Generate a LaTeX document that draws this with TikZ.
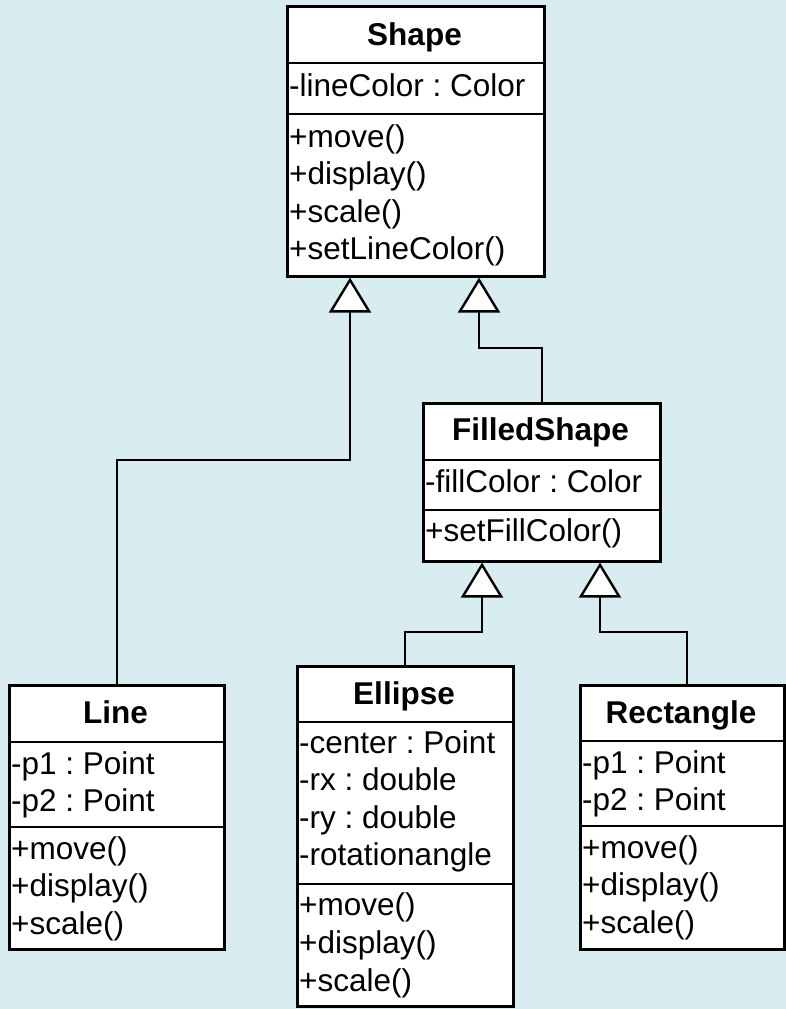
\documentclass[tikz,border=0pt]{standalone}
\usepackage{fontspec}
\setmainfont{Liberation Sans}
\usetikzlibrary{arrows.meta}
\definecolor{bgc}{RGB}{217,236,239}
\frenchspacing
\begin{document}
\begin{tikzpicture}[x=1pt,y=-1pt,
  classbox/.style={draw=black, fill=white, line width=2.6pt, inner sep=0pt, anchor=north west},
  sep/.style={line width=2.6pt},
  title/.style={font=\fontsize{31.5pt}{37pt}\selectfont\bfseries, anchor=base, inner sep=0pt},
  member/.style={font=\fontsize{31.5pt}{37pt}\selectfont, anchor=base west, inner sep=0pt},
  inherit/.style={line width=1.8pt, -{Triangle[length=35pt, width=42pt, fill=white, line width=2.4pt]}}
]
\fill[bgc] (0,0) rectangle (786,1009);
\useasboundingbox (0,0) rectangle (786,1009);

% Shape
\node[classbox, minimum width=257pt, minimum height=270pt] (shape) at (286,5) {};
\draw[sep] (shape.west |- 0,63) -- (shape.east |- 0,63);
\draw[sep] (shape.west |- 0,114) -- (shape.east |- 0,114);
\node[title] (shapeT) at (414.5,45) {Shape};
\node[member] (shapeA1) at (289,96) {-lineColor : Color};
\node[member] (shapeM1) at (289,147) {+move()};
\node[member] (shapeM2) at (289,184) {+display()};
\node[member] (shapeM3) at (289,222) {+scale()};
\node[member] (shapeM4) at (289,259) {+setLineColor()};

% FilledShape
\node[classbox, minimum width=237pt, minimum height=158pt] (filled) at (422,402) {};
\draw[sep] (filled.west |- 0,460) -- (filled.east |- 0,460);
\draw[sep] (filled.west |- 0,510) -- (filled.east |- 0,510);
\node[title] (filledT) at (540.5,440) {FilledShape};
\node[member] (filledA1) at (425,492) {-fillColor : Color};
\node[member] (filledM1) at (425,541) {+setFillColor()};

% Line
\node[classbox, minimum width=215pt, minimum height=264pt] (line) at (8,684) {};
\draw[sep] (line.west |- 0,742) -- (line.east |- 0,742);
\draw[sep] (line.west |- 0,827) -- (line.east |- 0,827);
\node[title] (lineT) at (115.5,723) {Line};
\node[member] (lineA1) at (11,774) {-p1 : Point};
\node[member] (lineA2) at (11,811) {-p2 : Point};
\node[member] (lineM1) at (11,859) {+move()};
\node[member] (lineM2) at (11,896) {+display()};
\node[member] (lineM3) at (11,934) {+scale()};

% Ellipse
\node[classbox, minimum width=216pt, minimum height=340pt] (ellipse) at (296,665) {};
\draw[sep] (ellipse.west |- 0,722) -- (ellipse.east |- 0,722);
\draw[sep] (ellipse.west |- 0,884) -- (ellipse.east |- 0,884);
\node[title] (ellipseT) at (404,704) {Ellipse};
\node[member] (ellipseA1) at (299,753) {-center : Point};
\node[member] (ellipseA2) at (299,790) {-rx : double};
\node[member] (ellipseA3) at (299,828) {-ry : double};
\node[member] (ellipseA4) at (299,865) {-rotationangle};
\node[member] (ellipseM1) at (299,915) {+move()};
\node[member] (ellipseM2) at (299,953) {+display()};
\node[member] (ellipseM3) at (299,991) {+scale()};

% Rectangle
\node[classbox, minimum width=204pt, minimum height=264pt] (rect) at (579,684) {};
\draw[sep] (rect.west |- 0,741) -- (rect.east |- 0,741);
\draw[sep] (rect.west |- 0,826) -- (rect.east |- 0,826);
\node[title] (rectT) at (681,723) {Rectangle};
\node[member] (rectA1) at (582,773) {-p1 : Point};
\node[member] (rectA2) at (582,810) {-p2 : Point};
\node[member] (rectM1) at (582,858) {+move()};
\node[member] (rectM2) at (582,895) {+display()};
\node[member] (rectM3) at (582,933) {+scale()};

% connectors
\coordinate (j1) at (350,460);
\coordinate (j2) at (479,348);
\coordinate (j3) at (482,632);
\coordinate (j4) at (600,632);
\coordinate (j5) at (687,632);
\draw[inherit] (line.north) |- (j1) -- (j1 |- shape.south);
\draw[inherit] (filled.north) |- (j2) -- (j2 |- shape.south);
\draw[inherit] (ellipse.north) |- (j3) -- (j3 |- filled.south);
\draw[inherit] (j5 |- rect.north) -- (j5) -- (j4) -- (j4 |- filled.south);
\end{tikzpicture}
\end{document}
